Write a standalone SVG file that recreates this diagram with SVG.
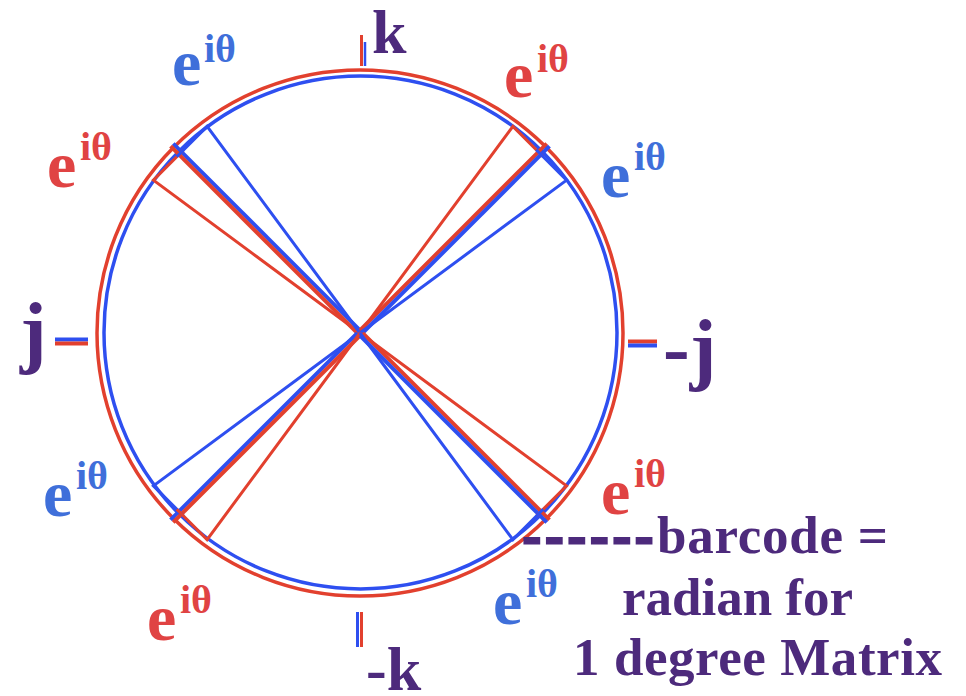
<svg xmlns="http://www.w3.org/2000/svg" width="966" height="696" viewBox="0 0 966 696">
<style>
.rc{fill:none;stroke:#e2402e;stroke-width:3.5}
.bc{fill:none;stroke:#2e4ff0;stroke-width:3.5}
.rt{stroke:#e2402e;stroke-width:4;stroke-linecap:butt;fill:none}
.bt{stroke:#2e4ff0;stroke-width:4;stroke-linecap:butt;fill:none}
.rn{stroke:#e2402e;stroke-width:3;fill:none}
.bn{stroke:#2e4ff0;stroke-width:3;fill:none}
.lbl{font-family:"Liberation Serif","Times New Roman",serif;font-weight:bold}
.re{fill:#e04343}
.be{fill:#3f6fda}
.pu{fill:#4d2a7c;font-family:"Liberation Serif","Times New Roman",serif;font-weight:bold}
</style>
<rect width="966" height="696" fill="#ffffff"/>
<g id="circles">
<circle class="rc" cx="360" cy="333" r="263"/>
<circle class="bc" cx="360.5" cy="332.5" r="256.5"/>
</g>
<g id="connectors">
<line class="bt" x1="361.3" y1="331.7" x2="173.2" y2="143.6"/>
<line class="rt" x1="358.7" y1="334.3" x2="170.6" y2="146.2"/>
<line class="rt" x1="358.7" y1="331.7" x2="546.8" y2="143.6"/>
<line class="bt" x1="361.3" y1="334.3" x2="549.4" y2="146.2"/>
<line class="bt" x1="358.7" y1="331.7" x2="170.6" y2="519.8"/>
<line class="rt" x1="361.3" y1="334.3" x2="173.2" y2="522.4"/>
<line class="rt" x1="361.3" y1="331.7" x2="549.4" y2="519.8"/>
<line class="bt" x1="358.7" y1="334.3" x2="546.8" y2="522.4"/>
<polyline class="rn" points="360,333 153.4,180.1 183.8,149.8"/>
<polyline class="bn" points="360,333 207.1,126.4 176.8,156.8"/>
<polyline class="rn" points="360,333 512.9,126.4 543.2,156.8"/>
<polyline class="bn" points="360,333 566.6,180.1 536.2,149.8"/>
<polyline class="bn" points="360,333 153.4,485.9 183.8,516.2"/>
<polyline class="rn" points="360,333 207.1,539.6 176.8,509.2"/>
<polyline class="rn" points="360,333 566.6,485.9 536.2,516.2"/>
<polyline class="bn" points="360,333 512.9,539.6 543.2,509.2"/>
<line class="rn" x1="361.5" y1="35" x2="361.5" y2="66"/>
<line stroke="#2e4ff0" stroke-width="2.5" x1="365" y1="42" x2="365" y2="66"/>
<line class="bn" x1="357.5" y1="612" x2="357.5" y2="647"/>
<line class="rn" x1="361.5" y1="612" x2="361.5" y2="647"/>
<line stroke="#2e4ff0" stroke-width="4" x1="55" y1="339.5" x2="88" y2="339.5"/>
<line stroke="#e2402e" stroke-width="4" x1="55" y1="343.5" x2="88" y2="343.5"/>
<line stroke="#e2402e" stroke-width="4" x1="628" y1="341.5" x2="657" y2="341.5"/>
<line stroke="#2e4ff0" stroke-width="4" x1="628" y1="345.5" x2="657" y2="345.5"/>
</g>
<g id="label-k"><text class="pu" x="372" y="53" font-size="62">k</text></g>
<g id="label-mk"><text class="pu" x="366" y="690" font-size="62">-k</text></g>
<g id="label-j"><text class="pu" x="20" y="358" font-size="80">j</text></g>
<g id="label-mj"><text class="pu" x="663" y="375" font-size="80">-j</text></g>
<g id="e-tl-blue" class="lbl be"><text x="172" y="85" font-size="66">e</text><text x="204" y="62" font-size="40">iθ</text></g>
<g id="e-tl-red" class="lbl re"><text x="47" y="187" font-size="66">e</text><text x="80" y="160" font-size="40">iθ</text></g>
<g id="e-tr-red" class="lbl re"><text x="504" y="97" font-size="66">e</text><text x="537" y="72" font-size="40">iθ</text></g>
<g id="e-tr-blue" class="lbl be"><text x="601" y="197" font-size="66">e</text><text x="634" y="170" font-size="40">iθ</text></g>
<g id="e-bl-blue" class="lbl be"><text x="43" y="516" font-size="66">e</text><text x="76" y="489" font-size="40">iθ</text></g>
<g id="e-br-red" class="lbl re"><text x="601" y="514" font-size="66">e</text><text x="634" y="487" font-size="40">iθ</text></g>
<g id="e-bl-red" class="lbl re"><text x="147" y="640" font-size="66">e</text><text x="180" y="613" font-size="40">iθ</text></g>
<g id="e-br-blue" class="lbl be"><text x="493" y="624" font-size="66">e</text><text x="526" y="597" font-size="40">iθ</text></g>
<g id="caption">
<text class="pu" y="553" font-size="53"><tspan x="523" textLength="130" lengthAdjust="spacing" stroke="#4d2a7c" stroke-width="3">------</tspan><tspan x="657" textLength="231">barcode =</tspan></text>
<text class="pu" x="622" y="615" font-size="53" textLength="231">radian for</text>
<text class="pu" x="573" y="675" font-size="53" textLength="369">1 degree Matrix</text>
</g>
</svg>
